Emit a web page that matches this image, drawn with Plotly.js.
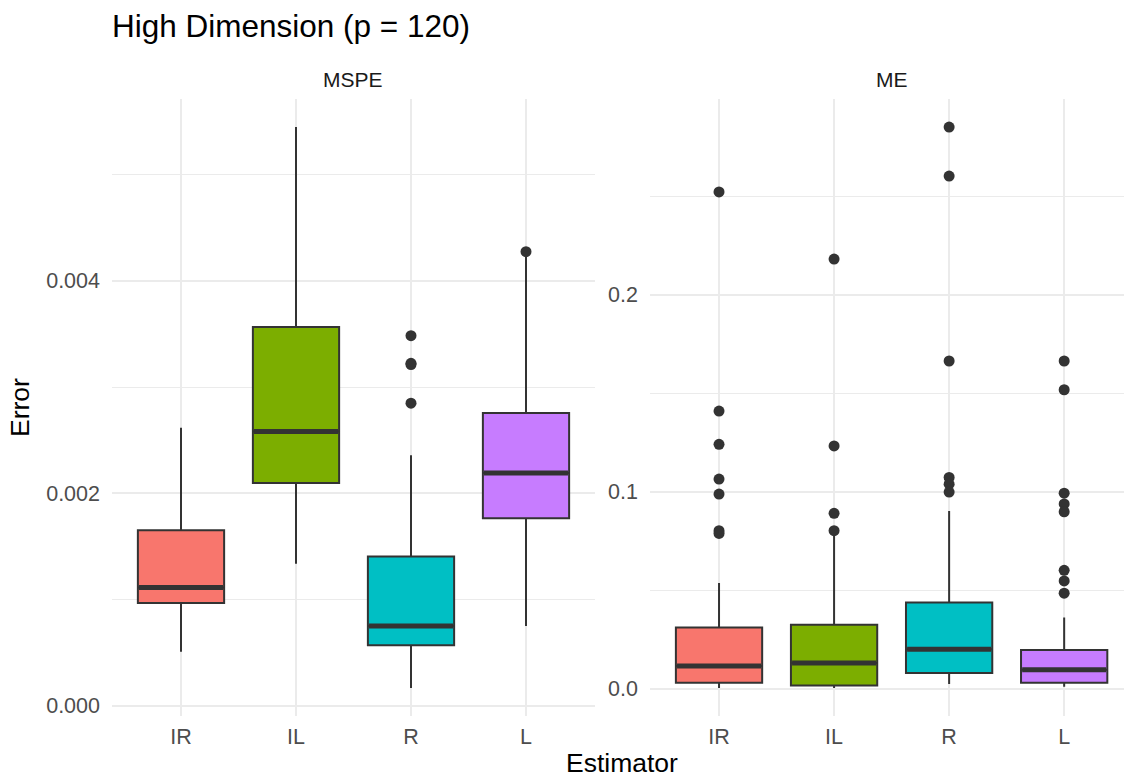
<!DOCTYPE html>
<html>
<head>
<meta charset="utf-8">
<script src="https://cdn.plot.ly/plotly-3.0.1.min.js"></script>
<style>html,body{margin:0;padding:0;background:#fff}#chart{width:1124px;height:780px}</style>
</head>
<body>
<div id="chart"></div>
<script>
// ---- Data ----
const estimators = ["IR", "IL", "R", "L"];
const colors = ["#F8766D", "#7CAE00", "#00BFC4", "#C77CFF"];

// MSPE panel box statistics
const mspeLower  = [0.000509, 0.001337, 0.000167, 0.000750];
const mspeQ1     = [0.000966, 0.002098, 0.000568, 0.001764];
const mspeMedian = [0.001114, 0.002581, 0.000750, 0.002191];
const mspeQ3     = [0.001653, 0.003565, 0.001404, 0.002756];
const mspeUpper  = [0.002618, 0.005449, 0.002358, 0.004225];
const mspeOutliers = [
  [],
  [],
  [0.003484, 0.003224, 0.003213, 0.002849],
  [0.004275]
];

// ME panel box statistics
const meLower  = [0.0004, 0.0004, 0.0024, 0.0010];
const meQ1     = [0.0030, 0.0016, 0.0080, 0.0030];
const meMedian = [0.0116, 0.0130, 0.0200, 0.0096];
const meQ3     = [0.0311, 0.0325, 0.0437, 0.0196];
const meUpper  = [0.0537, 0.0775, 0.0902, 0.0361];
const meOutliers = [
  [0.2521, 0.1409, 0.1240, 0.1064, 0.0988, 0.0802, 0.0788],
  [0.2180, 0.1232, 0.0890, 0.0802],
  [0.2850, 0.2601, 0.1663, 0.1072, 0.1038, 0.0998],
  [0.1663, 0.1517, 0.0992, 0.0938, 0.0898, 0.0601, 0.0547, 0.0485]
];

// ---- Build traces ----
const LINE = "#333333";
const BOXW = 0.75;
const traces = [];
function addPanel(lower, q1, med, q3, upper, outl, xa, ya) {
  estimators.forEach((e, i) => {
    traces.push({
      type: "box", xaxis: xa, yaxis: ya, name: e, showlegend: false,
      x: [i], q1: [q1[i]], median: [med[i]], q3: [q3[i]],
      lowerfence: [lower[i]], upperfence: [upper[i]],
      width: BOXW, whiskerwidth: 0, boxpoints: false,
      fillcolor: colors[i], line: {color: LINE, width: 2},
      hoverinfo: "skip"
    });
    // thick median line (ggplot fatten)
    traces.push({
      type: "scatter", mode: "lines", xaxis: xa, yaxis: ya, showlegend: false,
      x: [i - BOXW / 2 + 0.01, i + BOXW / 2 - 0.01], y: [med[i], med[i]],
      line: {color: LINE, width: 5}, hoverinfo: "skip"
    });
    if (outl[i].length) {
      traces.push({
        type: "scatter", mode: "markers", xaxis: xa, yaxis: ya, showlegend: false,
        x: outl[i].map(() => i), y: outl[i],
        marker: {color: LINE, size: 11}, hoverinfo: "skip"
      });
    }
  });
}
addPanel(mspeLower, mspeQ1, mspeMedian, mspeQ3, mspeUpper, mspeOutliers, "x", "y");
addPanel(meLower, meQ1, meMedian, meQ3, meUpper, meOutliers, "x2", "y2");

function expRange(lower, upper, outl) {
  const all = lower.concat(upper, ...outl);
  const mn = Math.min(...all), mx = Math.max(...all);
  const pad = 0.05 * (mx - mn);
  return [mn - pad, mx + pad];
}

const W = 1124, H = 780;
const yDom = [(H - 716) / H, (H - 99) / H];
const FONT = "Liberation Sans, Arial, sans-serif";
const tickFont = {family: FONT, size: 21.5, color: "#4D4D4D"};
const GRID = "#EBEBEB";

const xBase = {
  tickmode: "array", tickvals: [0, 1, 2, 3], ticktext: estimators,
  showgrid: true, gridcolor: GRID, gridwidth: 2, zeroline: false,
  showline: false, ticks: "", tickfont: tickFont, ticklabelstandoff: 5
};
const yBase = {
  showgrid: true, gridcolor: GRID, gridwidth: 2, zeroline: false,
  showline: false, ticks: "", tickfont: tickFont, domain: yDom, ticklabelstandoff: 11
};

const layout = {
  width: W, height: H,
  margin: {l: 0, r: 0, t: 0, b: 0},
  paper_bgcolor: "#FFFFFF", plot_bgcolor: "#FFFFFF",
  boxmode: "overlay",
  showlegend: false,
  xaxis: Object.assign({}, xBase, {domain: [112 / W, 595 / W], range: [-0.6, 3.6], anchor: "y"}),
  xaxis2: Object.assign({}, xBase, {domain: [650 / W, 1], range: [-0.6, 3.52], anchor: "y2"}),
  yaxis: Object.assign({}, yBase, {
    anchor: "x", range: expRange(mspeLower, mspeUpper, mspeOutliers),
    tickvals: [0, 0.002, 0.004], tickformat: ".3f",
    minor: {tickvals: [0.001, 0.003, 0.005], showgrid: true, gridcolor: GRID, gridwidth: 1, ticks: ""}
  }),
  yaxis2: Object.assign({}, yBase, {
    anchor: "x2", range: expRange(meLower, meUpper, meOutliers),
    tickvals: [0, 0.1, 0.2], tickformat: ".1f",
    minor: {tickvals: [0.05, 0.15, 0.25], showgrid: true, gridcolor: GRID, gridwidth: 1, ticks: ""}
  }),
  annotations: [
    {text: "High Dimension (p = 120)", xref: "paper", yref: "paper", x: 110 / W, y: 1 - 26 / H,
     xanchor: "left", yanchor: "middle", showarrow: false, font: {family: FONT, size: 31.5, color: "#000"}},
    {text: "MSPE", xref: "paper", yref: "paper", x: (112 + 595) / 2 / W, y: 1 - 80 / H,
     xanchor: "center", yanchor: "middle", showarrow: false, font: {family: FONT, size: 21, color: "#1A1A1A"}},
    {text: "ME", xref: "paper", yref: "paper", x: (650 + 1133) / 2 / W, y: 1 - 80 / H,
     xanchor: "center", yanchor: "middle", showarrow: false, font: {family: FONT, size: 21, color: "#1A1A1A"}},
    {text: "Estimator", xref: "paper", yref: "paper", x: 622 / W, y: 0,
     xanchor: "center", yanchor: "bottom", showarrow: false, font: {family: FONT, size: 26.5, color: "#000"}},
    {text: "Error", xref: "paper", yref: "paper", x: 20 / W, y: 1 - 408 / H, textangle: -90,
     xanchor: "center", yanchor: "middle", showarrow: false, font: {family: FONT, size: 26.5, color: "#000"}}
  ]
};

Plotly.newPlot("chart", traces, layout, {staticPlot: true, displayModeBar: false});
</script>
</body>
</html>
